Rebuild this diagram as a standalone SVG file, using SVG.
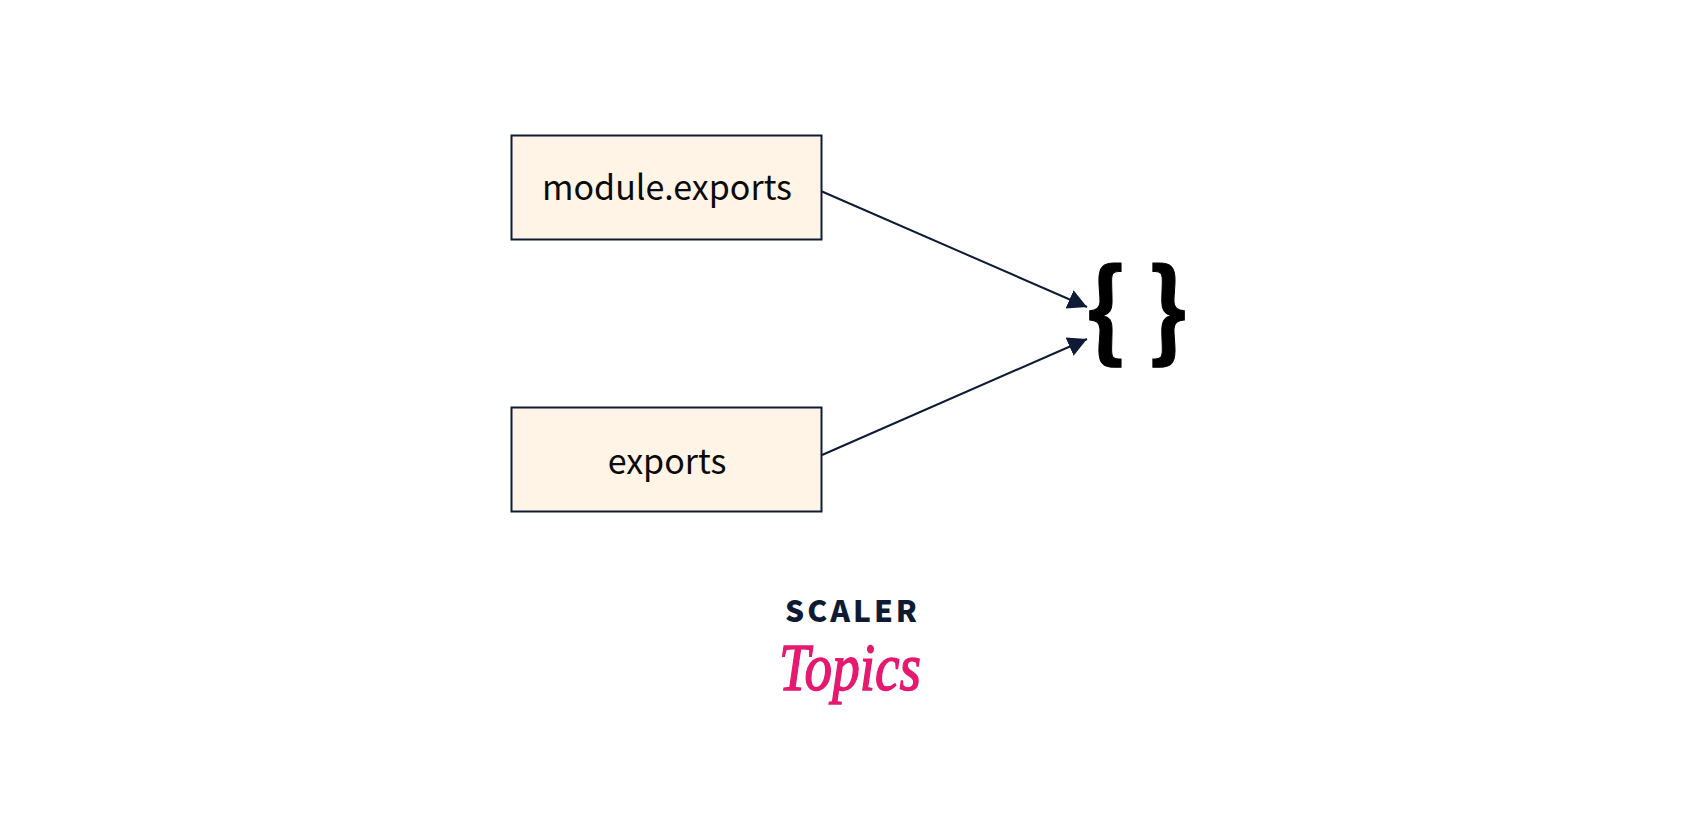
<svg xmlns="http://www.w3.org/2000/svg" width="1700" height="817" viewBox="0 0 1700 817">
<style>
.box{fill:#fff4e6;stroke:#0f1c38;stroke-width:2}
.lbl{font-family:"Noto Sans CJK SC","Noto Sans",sans-serif;font-size:34px;fill:#0a0a0a;text-anchor:middle}
.conn{stroke:#0d1b36;stroke-width:2;fill:none;marker-end:url(#arr)}
.brace{font-family:"Noto Sans CJK SC","Noto Sans",sans-serif;font-size:107px;font-weight:700;fill:#000;stroke:#000;stroke-width:1;text-anchor:middle}
</style>
<defs>
<marker id="arr" markerUnits="userSpaceOnUse" markerWidth="22" markerHeight="24" refX="19" refY="12" orient="auto">
<path d="M0,2L19,12L0,22Z" fill="#0d1b36"/>
</marker>
</defs>
<rect width="1700" height="817" fill="#fff"/>
<g id="connectors">
<path class="conn" d="M822,191.500L1087,307"/>
<path class="conn" d="M822,455L1087,339"/>
</g>
<g id="node-module-exports">
<rect class="box" x="511.500" y="135.500" width="310" height="104"/>
<text class="lbl" x="667" y="200">module.exports</text>
</g>
<g id="node-exports">
<rect class="box" x="511.500" y="407.500" width="310" height="104"/>
<text class="lbl" x="667" y="474">exports</text>
</g>
<g id="node-braces">
<text class="brace" x="1106" y="349">{</text>
<text class="brace" x="1168" y="349">}</text>
</g>
<g id="logo">
<text x="852.500" y="622" font-family="'Noto Sans CJK SC','Noto Sans',sans-serif" font-weight="900" font-size="30" letter-spacing="3" text-anchor="middle" fill="#0e1b33">SCALER</text>
<text x="850" y="690" font-family="'Liberation Serif',serif" font-style="italic" font-size="68" fill="#e6186f" stroke="#e6186f" stroke-width="1.500" text-anchor="middle" textLength="142" lengthAdjust="spacingAndGlyphs">Topics</text>
</g>
</svg>
